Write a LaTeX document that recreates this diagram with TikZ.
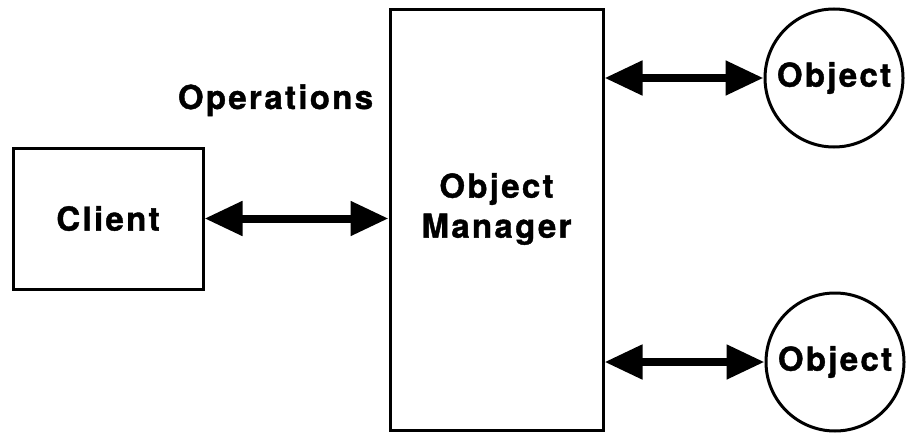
\documentclass[tikz,border=0pt]{standalone}
\usepackage{fontspec}
\newfontfamily\diafont{TeX Gyre Heros}[LetterSpace=7, BoldFeatures={FakeBold=1.2}]
\usepackage{tikz}
\usetikzlibrary{arrows.meta,positioning}
\tikzset{
  block/.style   = {draw, line width=1.5pt, rectangle, inner sep=0pt},
  objnode/.style = {draw, line width=1.5pt, circle, inner sep=0pt,
                    minimum size=69pt},
  lbl/.style     = {font=\diafont\bfseries\fontsize{16.5pt}{20pt}\selectfont,
                    align=center},
  link/.style    = {{Triangle[length=19pt,width=16.5pt]}-{Triangle[length=19pt,width=16.5pt]},
                    line width=4pt},
}

\begin{document}
\begin{tikzpicture}[x=0.5pt, y=-0.5pt]
\useasboundingbox (0,0) rectangle (909,433);
% ---- client and manager ----
\node[block, lbl, minimum width=95pt, minimum height=70.5pt] (client) at (108,218.5) {Client};
\node[block, minimum width=106.5pt, minimum height=210pt] (mgr) at (496.5,220) {};
\node[lbl] (mgrtext) at ([yshift=5.5pt]mgr.center) {Object\\Manager};
\node[lbl, anchor=base] (ops) at (275.5,109) {Operations};
% ---- the managed objects ----
\node[objnode, lbl] (obja) at (834,78) {Object};
\node[objnode, lbl] (objb) at (835,362) {Object};
% ---- links ----
\draw[link] (client) -- (client -| mgr.west);
\draw[link] (mgr.east |- obja) -- (obja);
\draw[link] (mgr.east |- objb) -- (objb);
\end{tikzpicture}
\end{document}
